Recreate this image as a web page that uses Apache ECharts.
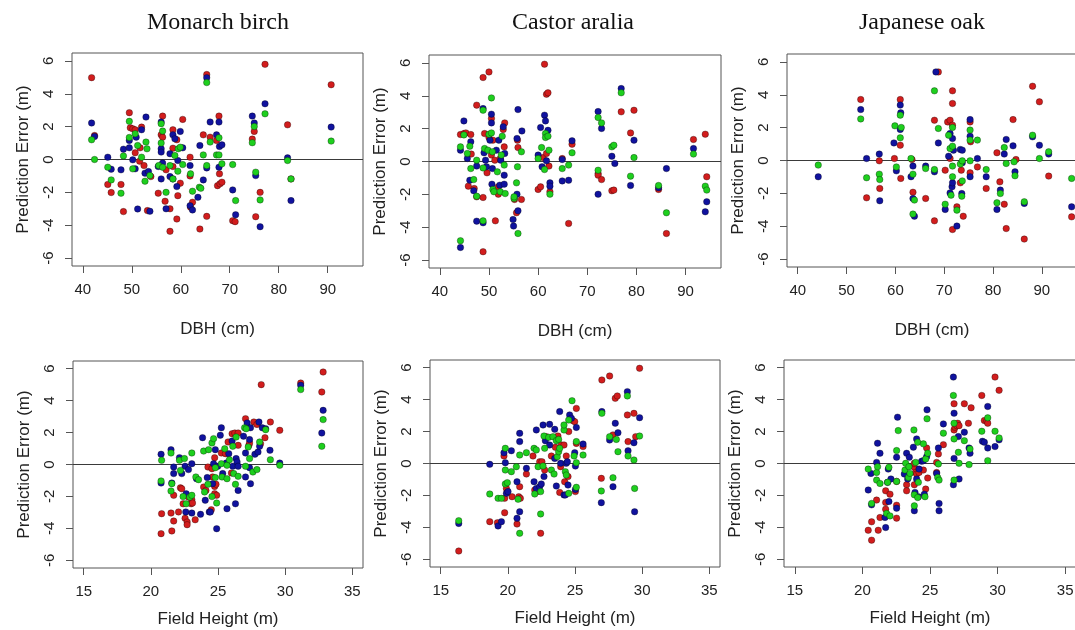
<!DOCTYPE html>
<html>
<head>
<meta charset="utf-8">
<script src="https://cdn.jsdelivr.net/npm/echarts@6/dist/echarts.min.js"></script>
<style>
html, body { margin: 0; background: #fff; }
#chart { width: 1075px; height: 630px; }
</style>
</head>
<body>
<div id="chart"></div>
<script>
// prediction error (m) per tree, one list per method colour: [x, error]
const birchDbhRed = [[41.8,4.98],[42.4,1.46],[45.1,-1.52],[45.8,-2.01],[47.8,-1.52],[48.3,-3.17],[49.5,2.85],[49.7,1.93],[50.2,1.87],[50.7,1.81],[50.7,0.41],[51.7,0.71],[51.6,-0.1],[52.0,1.97],[52.5,-0.37],[53.2,-3.11],[53.9,-1.04],[55.4,-2.05],[56.0,1.5],[56.3,2.64],[56.3,1.36],[56.8,-2.54],[57.0,-0.63],[57.8,-4.37],[57.8,-3.0],[58.4,1.81],[58.4,0.69],[58.4,-0.43],[59.2,1.2],[59.4,-2.2],[59.2,-3.62],[59.9,-1.44],[60.4,2.44],[61.9,0.14],[61.9,-1.0],[62.0,-2.9],[62.4,-2.6],[63.9,-4.23],[64.6,1.5],[65.3,5.17],[65.3,-3.46],[66.0,1.36],[67.3,1.16],[67.5,-1.59],[67.8,2.64],[67.9,-0.87],[68.0,-1.48],[68.4,-1.38],[70.6,-3.72],[71.1,-3.78],[74.6,1.24],[75.0,1.71],[75.3,-3.48],[76.2,-2.0],[77.2,5.79],[81.8,2.11],[82.5,-1.18],[90.7,4.55]];
const birchDbhBlue = [[41.8,2.22],[42.4,1.4],[45.1,0.14],[45.8,-0.59],[47.8,-0.63],[48.3,0.63],[49.5,1.16],[49.5,0.71],[50.2,-0.02],[50.7,-0.57],[50.9,1.36],[51.2,-3.01],[52.0,1.81],[52.7,-0.83],[52.9,2.58],[53.4,-0.73],[53.7,-3.15],[55.4,-0.43],[56.0,-1.18],[56.0,2.28],[56.0,0.65],[56.0,0.45],[56.3,-0.22],[57.0,-3.0],[57.8,-1.04],[57.8,0.35],[58.4,1.5],[58.4,-1.18],[58.8,1.26],[59.2,-1.65],[59.4,-0.06],[59.9,1.71],[60.4,0.71],[61.9,-0.37],[61.9,-2.81],[62.4,-3.07],[63.5,-2.3],[63.9,0.85],[64.6,-1.24],[65.3,4.98],[65.3,-0.51],[66.0,2.28],[67.3,1.5],[67.8,2.28],[67.9,0.79],[67.8,-0.47],[68.4,0.89],[70.6,-1.85],[71.2,-3.36],[74.6,2.64],[75.0,2.22],[75.3,-0.98],[76.2,-4.09],[77.2,3.39],[81.8,0.1],[82.5,-2.5],[90.7,1.97]];
const birchDbhGreen = [[41.8,1.2],[42.4,0],[45.1,-0.47],[45.8,-1.24],[47.8,-2.05],[48.3,0.22],[49.5,2.32],[49.5,1.34],[50.2,-0.57],[50.7,1.57],[51.2,0.85],[52.0,0.14],[52.7,-1.32],[52.9,1.06],[53.1,0.65],[53.7,-0.98],[55.5,-0.37],[56.0,2.18],[56.0,1.0],[56.3,1.73],[56.3,-0.47],[57.0,-2.0],[57.8,-0.37],[58.4,-1.18],[58.8,0.24],[59.5,0.65],[59.4,-0.71],[59.9,0.75],[60.4,-0.31],[62.0,-0.87],[62.4,-1.93],[63.8,-1.69],[64.1,-1.75],[64.6,0.28],[65.3,4.68],[65.3,-0.37],[66.0,1.06],[67.3,0.28],[67.8,1.32],[67.8,0.28],[68.4,-0.26],[70.6,-0.31],[71.2,-2.5],[74.6,1.02],[75.0,2.01],[75.3,-0.77],[76.2,-2.46],[77.2,2.78],[81.8,-0.06],[82.5,-1.18],[90.7,1.12]];

const araliaDbhRed = [[44.2,1.64],[44.9,1.7],[45.3,1.74],[45.8,-1.5],[46.3,1.64],[46.4,0.45],[47.0,-1.64],[47.5,-2.15],[47.5,3.43],[48.8,5.11],[48.8,-2.19],[48.8,-5.49],[49.1,1.7],[49.6,-0.69],[50.0,5.45],[50.0,1.46],[50.5,2.62],[50.5,0.39],[50.8,1.3],[51.2,0.08],[51.3,-3.61],[51.9,-1.54],[51.9,-1.99],[52.3,0.18],[52.9,1.95],[53.1,0.89],[53.2,2.35],[55.2,-2.31],[55.6,-3.12],[55.8,1.3],[55.9,0.85],[56.6,-2.31],[60.0,-1.7],[60.5,-1.54],[61.0,0.24],[61.3,5.92],[61.7,4.09],[62.0,4.18],[61.7,0.49],[62.2,-0.28],[62.4,-1.84],[64.9,0.18],[66.2,-3.77],[66.9,1.05],[72.2,-0.73],[72.2,-0.83],[72.9,-1.1],[75.0,-1.78],[75.4,-1.74],[76.9,3.02],[78.8,1.74],[79.5,3.12],[84.5,-1.7],[86.1,-4.38],[91.6,1.34],[94.0,1.66],[94.3,-0.93]];
const araliaDbhBlue = [[44.2,-5.23],[44.2,0.69],[44.9,2.47],[45.6,0.18],[46.3,1.2],[46.1,-1.14],[46.9,-1.78],[47.5,-0.28],[47.5,-3.63],[48.8,3.22],[48.8,-3.73],[49.0,0.53],[49.3,0.08],[49.5,-0.32],[50.2,1.3],[50.5,2.88],[50.5,2.35],[50.6,-1.38],[50.7,-0.43],[51.5,0.69],[52.0,1.3],[52.2,-1.44],[52.4,0.08],[52.9,2.11],[53.1,-0.83],[53.1,-1.38],[53.2,0.49],[54.9,-3.53],[55.0,-3.93],[55.7,-1.99],[55.7,1.4],[55.9,3.16],[55.9,-3.0],[56.7,1.86],[60.0,0.39],[60.5,2.07],[60.8,-0.32],[61.3,2.82],[61.5,2.47],[61.7,0.04],[62.0,1.9],[62.4,-1.3],[62.4,-1.5],[64.9,0.12],[64.9,-1.18],[66.2,-1.14],[66.9,1.26],[72.2,3.04],[72.2,-1.99],[72.9,2.01],[75.0,0.32],[75.6,-0.12],[76.9,4.44],[78.8,-1.46],[79.5,1.3],[84.5,-1.6],[86.1,-0.43],[91.6,0.79],[94.3,-2.45],[94.0,-3.06]];
const araliaDbhGreen = [[44.2,-4.82],[44.2,0.89],[44.9,1.62],[45.6,0.49],[46.1,0.93],[46.3,-0.43],[46.9,-1.1],[47.5,0.08],[47.5,-2.11],[48.8,3.12],[48.8,-0.39],[48.8,-3.61],[49.1,0.79],[49.8,0.69],[50.0,1.66],[50.5,1.74],[50.5,3.87],[50.7,0.59],[50.8,-1.7],[51.0,-1.84],[51.7,-0.63],[52.3,-1.84],[52.5,0.39],[52.7,1.54],[53.1,-0.22],[53.3,-1.95],[55.1,-2.25],[55.1,-2.15],[55.6,-1.3],[55.8,-0.32],[55.9,-4.38],[56.6,0.59],[60.0,0.18],[60.7,0.85],[61.3,-0.49],[61.5,1.7],[61.5,1.46],[62.0,1.54],[62.2,0.69],[62.4,-1.99],[64.9,-0.43],[66.2,-0.22],[66.9,0.53],[72.2,2.68],[72.2,-0.53],[72.9,2.35],[75.0,0.89],[75.4,0.99],[76.9,4.18],[78.8,-0.89],[79.5,0.24],[84.5,-1.46],[86.1,-3.12],[91.6,0.45],[94.0,-1.5],[94.3,-1.74]];

const oakDbhRed = [[52.9,3.71],[54.1,-2.27],[56.7,-0.02],[56.8,-1.7],[59.8,0.12],[61.0,3.71],[61.0,0.93],[61.1,-1.09],[63.4,0.06],[63.6,-1.93],[66.2,-2.31],[68.0,2.45],[68.0,-3.67],[68.8,5.39],[70.2,-0.59],[70.7,2.35],[71.2,2.45],[71.2,0.12],[71.7,-4.2],[71.7,4.24],[71.7,3.47],[71.7,2.15],[72.6,-2.82],[73.3,-1.36],[73.5,-0.59],[73.9,-3.39],[75.3,2.35],[75.4,1.14],[75.3,-0.75],[76.8,-0.39],[78.6,-1.7],[80.8,0.47],[81.4,-1.3],[82.3,-2.66],[82.7,-4.14],[84.1,2.49],[84.7,0.06],[86.4,-4.78],[88.1,4.52],[89.5,3.57],[91.4,-0.95],[96.1,-3.43]];
const oakDbhBlue = [[44.2,-0.99],[52.9,3.1],[54.1,0.12],[56.7,0.39],[56.8,-2.45],[59.7,1.07],[60.2,-0.63],[61.0,3.37],[61.0,1.89],[61.1,2.9],[63.2,-0.99],[63.6,-0.34],[63.6,-2.31],[63.9,-3.39],[66.2,-0.34],[68.0,-0.69],[68.3,5.39],[68.8,1.07],[70.2,-2.98],[70.9,0.26],[71.2,1.64],[71.2,-1.97],[71.6,-1.6],[71.7,1.34],[71.7,-1.36],[71.9,0.63],[72.6,-3.99],[73.3,0.67],[73.6,-2.01],[73.7,0.63],[73.7,-0.14],[75.3,2.49],[75.3,1.48],[75.3,-0.99],[76.8,0.12],[78.6,-0.99],[80.8,-2.98],[81.5,-1.8],[82.3,0.39],[82.7,1.28],[84.1,0.89],[84.5,-0.69],[86.4,-2.61],[88.1,1.44],[89.5,0.93],[91.4,0.39],[96.1,-2.82]];
const oakDbhGreen = [[44.2,-0.28],[52.9,2.53],[54.1,-1.05],[56.7,-0.83],[56.8,-1.16],[59.9,2.11],[60.2,-0.39],[61.0,2.76],[61.0,1.38],[61.2,2.01],[63.2,0.12],[63.6,-0.83],[63.9,-2.41],[63.6,-3.26],[66.2,-0.49],[68.0,4.24],[68.0,-0.55],[68.8,1.95],[70.2,-2.66],[70.9,1.54],[71.2,0.73],[71.4,-2.11],[71.7,2.01],[71.7,0.87],[71.7,-0.34],[71.7,-0.99],[72.6,-3.02],[73.3,-0.22],[73.6,-2.17],[73.7,-0.02],[73.7,-1.24],[75.3,1.85],[75.3,1.24],[75.3,-0.02],[76.8,1.24],[78.6,-0.55],[80.8,-2.57],[81.5,-2.01],[82.3,0.79],[82.7,-0.18],[84.3,-0.08],[84.5,-0.93],[86.4,-2.51],[88.1,1.54],[89.5,0.12],[91.4,0.53],[96.1,-1.09]];

const birchHtRed = [[20.8,-3.08],[20.76,-4.33],[21.7,-1.93],[21.5,-3.04],[21.7,-3.54],[21.56,-4.16],[22.06,-2.97],[22.2,-1.46],[22.3,-1.52],[22.4,-2.46],[22.55,-3.37],[22.7,-3.6],[22.7,-3.77],[22.8,-2.04],[23.0,-2.46],[23.05,-2.2],[23.1,-2.41],[23.3,-3.46],[23.93,-1.41],[24.1,-1.62],[24.25,-0.16],[24.5,-2.83],[24.55,-0.26],[24.6,-0.78],[24.75,-1.37],[24.75,0.43],[24.75,-1.83],[24.85,-1.24],[24.9,-1.93],[25.25,0.72],[25.55,0.68],[25.75,1.41],[26.0,-0.53],[26.05,1.93],[26.25,1.97],[26.5,1.2],[26.5,1.97],[27.05,2.87],[27.3,1.2],[27.35,1.35],[27.67,2.66],[27.9,2.51],[28.17,1.3],[28.22,5.0],[28.5,1.68],[28.9,2.66],[29.6,2.14],[31.16,5.1],[32.83,5.79],[32.73,4.54]];
const birchHtBlue = [[20.76,0.64],[20.76,-1.16],[21.5,0.93],[21.56,-1.16],[21.7,-0.16],[21.7,-0.57],[22.13,0.43],[22.3,-0.57],[22.55,-0.11],[22.6,-2.97],[22.63,-1.83],[22.8,-0.32],[23.05,-3.04],[23.05,0.05],[23.4,-0.89],[23.7,-3.12],[23.85,1.68],[24.05,-2.24],[24.2,-0.82],[24.35,-2.97],[24.43,-2.97],[24.6,-1.2],[24.67,0.05],[24.8,0.93],[24.9,-4.02],[24.98,-0.11],[25.17,1.83],[25.25,2.3],[25.35,-0.57],[25.62,0.09],[25.67,-2.77],[25.8,0.68],[26.05,1.47],[26.1,-0.11],[26.3,-2.46],[26.35,0.37],[26.42,0.16],[26.5,-1.62],[26.5,-0.11],[26.9,1.77],[27.05,0.72],[27.05,-0.78],[27.17,2.6],[27.35,-0.2],[27.35,1.56],[27.42,2.3],[27.42,-1.2],[27.75,0.64],[27.98,0.78],[28.05,2.66],[28.1,1.14],[28.3,2.3],[28.55,2.24],[28.87,0.89],[29.6,0.09],[31.16,4.96],[32.83,3.39],[32.73,1.97]];
const birchHtGreen = [[20.8,0.26],[20.76,-1.03],[21.5,0.72],[21.56,-1.2],[21.5,-1.66],[22.13,0.26],[22.2,-0.37],[22.4,-2.01],[22.5,0.37],[22.63,-2.46],[22.9,-2.04],[23.05,0.72],[23.05,-1.93],[23.35,-0.78],[23.55,-0.95],[23.93,0.84],[24.0,-1.72],[24.25,-1.24],[24.3,0.93],[24.55,-2.01],[24.55,1.35],[24.67,1.62],[24.8,-0.2],[24.8,-0.82],[24.9,-2.41],[25.25,0.05],[25.3,-0.78],[25.5,0.99],[25.67,-0.05],[25.67,-0.89],[25.85,0.3],[26.1,1.14],[26.17,-0.57],[26.3,-1.24],[26.35,1.72],[26.5,-0.74],[26.98,2.3],[27.05,-0.11],[27.1,2.24],[27.25,1.1],[27.35,0.37],[27.6,-0.47],[27.9,-0.32],[28.1,1.41],[28.55,2.18],[28.9,0.3],[29.6,-0.05],[31.16,4.69],[32.83,2.81],[32.73,1.14]];

const araliaHtRed = [[16.34,-5.48],[18.65,-3.64],[19.22,-3.71],[19.71,0.47],[19.76,-2.18],[19.76,-3.08],[19.89,-1.56],[20.31,-2.08],[20.68,-3.79],[20.81,-2.08],[20.88,-1.45],[20.93,-2.18],[21.38,-0.66],[21.87,0.47],[22.0,-1.66],[22.2,-1.76],[22.37,0.11],[22.44,-4.37],[22.54,0.11],[22.74,-0.41],[22.87,1.68],[23.24,0.47],[23.54,1.01],[23.73,1.72],[23.86,-1.81],[23.93,-0.2],[23.98,1.16],[24.18,1.16],[24.23,-1.14],[24.35,0.47],[24.48,-0.82],[24.53,2.0],[24.85,2.68],[24.98,2.62],[25.03,-1.76],[25.1,3.45],[25.1,1.26],[25.6,1.06],[26.96,-0.93],[27.0,5.23],[27.58,5.48],[27.83,1.79],[28.0,4.08],[28.15,4.23],[28.9,3.04],[28.95,1.37],[29.39,3.14],[29.52,1.68],[29.81,5.96]];
const araliaHtBlue = [[16.34,-3.75],[18.65,-0.05],[19.27,-3.91],[19.52,-3.64],[19.71,0.68],[19.81,0.05],[19.89,-1.87],[20.01,-1.76],[20.26,0.8],[20.68,-1.14],[20.68,-3.43],[20.88,1.89],[20.88,1.37],[20.88,-3.02],[21.38,-0.3],[21.95,-1.14],[22.12,2.1],[22.12,-1.56],[22.37,-1.45],[22.49,-1.28],[22.62,2.41],[22.69,-0.82],[22.79,1.43],[23.11,2.45],[23.11,1.16],[23.49,2.14],[23.49,0.32],[23.61,-1.41],[23.86,3.25],[23.93,0.01],[24.18,-1.97],[24.28,-1.97],[24.35,0.01],[24.43,0.11],[24.48,-1.35],[24.6,3.04],[24.73,2.83],[24.98,0.68],[25.03,-1.62],[25.03,-0.16],[25.1,2.26],[25.6,1.22],[26.96,-2.45],[27.0,3.25],[27.58,1.47],[27.83,-1.45],[28.0,2.52],[28.2,1.93],[28.9,4.5],[28.95,0.8],[29.39,1.3],[29.44,-3.02],[29.81,2.87]];
const araliaHtGreen = [[16.34,-3.58],[18.65,-1.91],[19.27,-2.18],[19.52,-2.18],[19.81,0.95],[19.81,-0.41],[19.81,-1.28],[19.96,-1.2],[20.26,-0.51],[20.63,-0.2],[20.76,-2.24],[20.88,0.53],[20.88,-4.37],[21.38,0.68],[21.95,0.95],[22.0,-1.91],[22.12,0.85],[22.25,-0.2],[22.44,-3.16],[22.44,-1.76],[22.62,-0.16],[22.69,1.72],[22.74,0.95],[23.04,1.64],[23.24,-0.41],[23.36,1.68],[23.44,-0.66],[23.61,1.43],[23.68,0.43],[23.78,1.51],[23.78,0.74],[23.86,0.95],[24.18,2.1],[24.18,2.41],[24.28,-0.51],[24.35,-0.72],[24.53,2.72],[24.53,-1.87],[24.78,3.93],[24.93,0.47],[25.1,1.37],[25.1,0.05],[25.1,-1.49],[25.6,0.53],[26.96,-1.72],[27.0,3.14],[27.58,1.68],[27.83,-0.89],[28.08,1.51],[28.2,0.74],[28.9,4.23],[28.95,0.47],[29.39,0.22],[29.44,-1.56],[29.81,1.72]];

const oakHtRed = [[20.43,-4.18],[20.68,-3.65],[20.68,-4.8],[21.05,-2.29],[21.17,-4.18],[21.3,-3.38],[21.72,-2.44],[21.72,-2.86],[21.72,-1.71],[22.04,-1.92],[22.53,-1.12],[22.53,-2.61],[22.53,-3.42],[23.27,-1.33],[23.27,-1.71],[23.84,-0.24],[23.84,0.01],[23.84,-1.33],[23.94,-0.56],[24.01,-0.66],[24.19,-0.56],[24.51,-0.41],[24.68,-1.6],[24.75,0.97],[24.83,-0.91],[25.49,0.07],[25.49,-0.56],[25.62,0.6],[25.99,1.18],[26.78,3.74],[26.78,2.1],[26.85,2.27],[26.98,2.37],[27.05,2.52],[27.15,2.37],[27.54,3.74],[27.84,2.52],[28.04,3.49],[28.83,4.26],[29.02,2.69],[29.2,2.65],[29.27,2.52],[29.81,5.41],[30.11,4.58]];
const oakHtBlue = [[20.43,-1.66],[20.63,-0.62],[20.68,-2.59],[21.05,0.07],[21.12,1.27],[21.3,0.64],[21.67,-3.38],[21.72,-4.01],[21.86,-1.18],[21.91,-0.35],[21.96,-2.38],[22.11,-0.97],[22.53,0.39],[22.53,-2.8],[22.6,2.9],[23.1,-0.66],[23.27,0.64],[23.35,-0.97],[23.47,0.39],[23.77,1.02],[23.84,-2.96],[23.89,-1.81],[24.01,1.54],[24.01,-0.97],[24.14,-2.08],[24.19,-0.35],[24.38,0.14],[24.51,0.18],[24.58,-1.92],[24.75,0.43],[24.78,3.36],[25.49,-0.62],[25.62,0.97],[25.67,-2.5],[25.67,-2.96],[25.99,2.48],[26.73,5.41],[26.78,3.15],[26.78,0.32],[26.73,-1.33],[27.1,1.69],[27.15,-0.97],[27.54,1.96],[27.89,0.97],[27.96,0.64],[28.88,1.39],[29.02,1.33],[29.27,3.57],[29.27,0.97],[29.81,1.06],[30.11,1.48]];
const oakHtGreen = [[20.43,-0.35],[20.68,-2.5],[21.05,-0.56],[21.05,-1.04],[21.12,-0.2],[21.3,-1.25],[21.79,-3.13],[21.86,-1.18],[21.96,-0.24],[22.04,-3.28],[22.53,0.81],[22.53,-1.12],[22.65,2.06],[23.15,-0.41],[23.2,0.01],[23.4,-0.87],[23.44,-0.2],[23.52,-0.62],[23.81,2.1],[23.84,-1.96],[23.84,-2.65],[23.94,0.07],[24.09,1.33],[24.09,-2.13],[24.14,-1.18],[24.51,1.23],[24.63,-2.08],[24.68,0.28],[24.78,2.8],[24.83,0.64],[25.57,-0.87],[25.62,-0.03],[25.67,-1.04],[25.99,1.9],[26.73,4.26],[26.78,2.52],[26.78,1.54],[26.78,-1.04],[27.1,0.7],[27.15,0.01],[27.54,1.43],[27.89,-0.07],[27.96,0.91],[28.83,2.02],[29.27,2.86],[29.27,0.18],[29.81,2.02],[30.11,1.6]];

const species = ['Monarch birch', 'Castor aralia', 'Japanese oak'];
const dbhTicks = [40, 50, 60, 70, 80, 90];
const heightTicks = [15, 20, 25, 30, 35];
const errorTicks = [-6, -4, -2, 0, 2, 4, 6];

const colors = ['#d21d1d', '#10129e', '#1ecf1e'];
const sans = 'Liberation Sans, Arial, sans-serif';

// R style axis extents (4% padding round the limits)
const dbhRange = [37.8, 97.2];
const htRange = [14.2, 35.8];
const errRange = [-6.48, 6.48];

const panels = [
  { grid: { left: 72, top: 53, width: 291, height: 213 }, xr: dbhRange, ticks: dbhTicks, xName: 'DBH (cm)', gap: 55, data: [birchDbhRed, birchDbhBlue, birchDbhGreen] },
  { grid: { left: 429, top: 55, width: 292, height: 213 }, xr: dbhRange, ticks: dbhTicks, xName: 'DBH (cm)', gap: 55, data: [araliaDbhRed, araliaDbhBlue, araliaDbhGreen] },
  { grid: { left: 787, top: 54, width: 290, height: 213 }, xr: dbhRange, ticks: dbhTicks, xName: 'DBH (cm)', gap: 55, data: [oakDbhRed, oakDbhBlue, oakDbhGreen] },
  { grid: { left: 73, top: 361, width: 290, height: 207 }, xr: htRange, ticks: heightTicks, xName: 'Field Height (m)', gap: 43, data: [birchHtRed, birchHtBlue, birchHtGreen] },
  { grid: { left: 430, top: 360, width: 290, height: 207 }, xr: htRange, ticks: heightTicks, xName: 'Field Height (m)', gap: 43, data: [araliaHtRed, araliaHtBlue, araliaHtGreen] },
  { grid: { left: 784, top: 360, width: 292, height: 207 }, xr: htRange, ticks: heightTicks, xName: 'Field Height (m)', gap: 43, data: [oakHtRed, oakHtBlue, oakHtGreen] }
];

const titleX = [213, 568, 917];

const chart = echarts.init(document.getElementById('chart'), null, { renderer: 'canvas' });

const series = [];
panels.forEach((p, i) => {
  p.data.forEach((pts, c) => {
    const s = {
      type: 'scatter',
      xAxisIndex: i,
      yAxisIndex: i,
      data: pts,
      symbolSize: 6.5,
      clip: false,
      z: 3 + c,
      itemStyle: { color: colors[c], borderColor: 'rgba(0,0,0,0.45)', borderWidth: 0.7, opacity: 1 },
      emphasis: { disabled: true }
    };
    if (c === 0) {
      s.markLine = {
        silent: true,
        symbol: ['none', 'none'],
        label: { show: false },
        lineStyle: { color: '#3a3a3a', width: 1, type: 'solid' },
        data: [{ yAxis: 0 }],
        z: 1
      };
    }
    series.push(s);
  });
});

const option = {
  backgroundColor: '#fff',
  animation: false,
  title: species.map((t, i) => ({
    text: t,
    left: titleX[i],
    top: 6,
    textAlign: 'center',
    textStyle: { fontFamily: 'Liberation Serif, Times New Roman, serif', fontSize: 24, fontWeight: 'normal', color: '#111' }
  })),
  grid: panels.map(p => Object.assign({ show: true, borderColor: '#555', borderWidth: 1, backgroundColor: 'transparent', containLabel: false, outerBoundsMode: 'none' }, p.grid)),
  xAxis: panels.map((p, i) => ({
    type: 'value',
    gridIndex: i,
    min: p.xr[0],
    max: p.xr[1],
    splitLine: { show: false },
    axisLine: { show: false, onZero: false },
    axisTick: { show: true, length: 7, customValues: p.ticks, lineStyle: { color: '#555' } },
    axisLabel: { customValues: p.ticks, margin: 16, fontSize: 15, color: '#222', fontFamily: sans },
    name: p.xName,
    nameLocation: 'middle',
    nameGap: p.gap,
    nameTextStyle: { fontSize: 17, color: '#222', fontFamily: sans }
  })),
  yAxis: panels.map((p, i) => ({
    type: 'value',
    gridIndex: i,
    min: errRange[0],
    max: errRange[1],
    splitLine: { show: false },
    axisLine: { show: false, onZero: false },
    axisTick: { show: true, length: 7, customValues: errorTicks, lineStyle: { color: '#555' } },
    axisLabel: { customValues: errorTicks, rotate: 90, margin: 16, fontSize: 15, color: '#222', fontFamily: sans },
    name: 'Prediction Error (m)',
    nameLocation: 'middle',
    nameGap: 40,
    nameTextStyle: { fontSize: 17, color: '#222', fontFamily: sans }
  })),
  series: series
};

chart.setOption(option);
</script>
</body>
</html>
